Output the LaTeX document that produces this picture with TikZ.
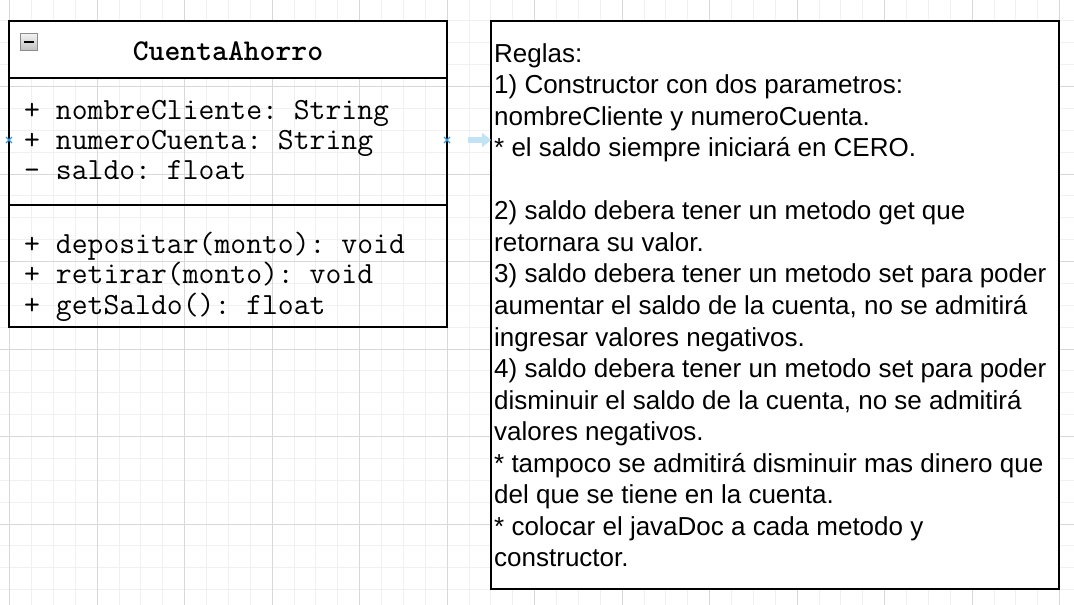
\documentclass[tikz,border=0pt]{standalone}
\usepackage{fontspec}
\setmainfont{Liberation Sans}
\usetikzlibrary{positioning}
\usetikzlibrary{arrows.meta}
\definecolor{gridmajor}{HTML}{D8D8D8}
\definecolor{gridminor}{HTML}{F0F0F0}
\definecolor{hoverblue}{HTML}{C2E2F5}
\definecolor{markblue}{HTML}{3C9BE0}
\frenchspacing
\tikzset {
  x=1pt, y=-1pt,
  % parts of the class box and the note
  box/.style = {draw, line width=2pt, inner sep=0pt, outer sep=0pt},
  part/.style = {box, minimum width=438pt},
  % one line of text
  monoline/.style = {anchor=base west, inner sep=0pt, font=\fontsize{30.8}{30}\selectfont\ttfamily},
  ruleline/.style = {anchor=base west, inner sep=0pt, font=\fontsize{26}{31}\selectfont},
  % drawio hover marks
  hovermark/.style = {markblue, line width=1.3pt},
}

\begin{document}
\begin{tikzpicture}
      \useasboundingbox (0,0) rectangle (1074,605);
      \fill[white] (0,0) rectangle (1074,605);

      % background grid
      \foreach \k in {0,...,48}
        \draw[gridminor, line width=1pt] ({9.7+21.875*\k},0) -- ({9.7+21.875*\k},605);
      \foreach \k in {1,...,27}
        \draw[gridminor, line width=1pt] (0,{-1+21.875*\k}) -- (1074,{-1+21.875*\k});
      \foreach \k in {0,...,12}
        \draw[gridmajor, line width=1pt] ({9.7+87.5*\k},0) -- ({9.7+87.5*\k},605);
      \foreach \k in {1,...,6}
        \draw[gridmajor, line width=1pt] (0,{-1+87.5*\k}) -- (1074,{-1+87.5*\k});

      % class CuentaAhorro
      \node[part, fill=white, minimum height=57pt, anchor=north west] (title) at (9,21) {};
      \node[part, minimum height=127pt, below=0pt of title] (attrs) {};
      \node[part, minimum height=122pt, below=0pt of attrs] (methods) {};

      \node[anchor=base, inner sep=0pt, font=\fontsize{30.2}{30}\selectfont\ttfamily\bfseries]
        (name) at ([yshift=-39.7pt]title.north) {CuentaAhorro};

      \node[draw={black!45}, line width=0.8pt, top color=black!5, bottom color=black!25,
        minimum size=17pt, inner sep=0pt] (fold) at (29,42) {};
      \draw[line width=2.2pt] ([xshift=-5pt]fold.center) -- ([xshift=5pt]fold.center);

      \foreach \txt [count=\i from 0] in {+ nombreCliente: String, + numeroCuenta: String, - saldo: float}
        \node[monoline] (attr\i) at (24,{119.5+30*\i}) {\txt};
      \foreach \txt [count=\i from 0] in {+ depositar(monto): void, + retirar(monto): void, + getSaldo(): float}
        \node[monoline] (meth\i) at (24,{253+30.8*\i}) {\txt};

      % note with the rules
      \node[box, fill=white, minimum width=568pt, minimum height=568pt, anchor=north west] (rules) at (491,21) {};

      \foreach \txt [count=\i from 0] in {
          Reglas:,
          1) Constructor con dos parametros:,
          nombreCliente y numeroCuenta.,
          * el saldo siempre iniciará en CERO.,
          {},
          2) saldo debera tener un metodo get que,
          retornara su valor.,
          3) saldo debera tener un metodo set para poder,
          {aumentar el saldo de la cuenta, no se admitirá},
          ingresar valores negativos.,
          4) saldo debera tener un metodo set para poder,
          {disminuir el saldo de la cuenta, no se admitirá},
          valores negativos.,
          * tampoco se admitirá disminuir mas dinero que,
          del que se tiene en la cuenta.,
          * colocar el javaDoc a cada metodo y,
          constructor.}
        \node[ruleline] (rule\i) at (494,{62+31.56*\i}) {\txt};

      % hover marks and arrow
      \coordinate (hovertail) at (468,140);
      \draw[hoverblue, line width=6pt, -{Triangle[length=9pt, width=14pt]}] (hovertail) -- (rules.west |- hovertail);
      \foreach \p in {(attrs.west |- hovertail), (attrs.east |- hovertail)} {
        \draw[hovermark] \p ++(-3,-3) -- ++(6,6);
        \draw[hovermark] \p ++(-3,3) -- ++(6,-6);
      }
    \end{tikzpicture}
\end{document}
